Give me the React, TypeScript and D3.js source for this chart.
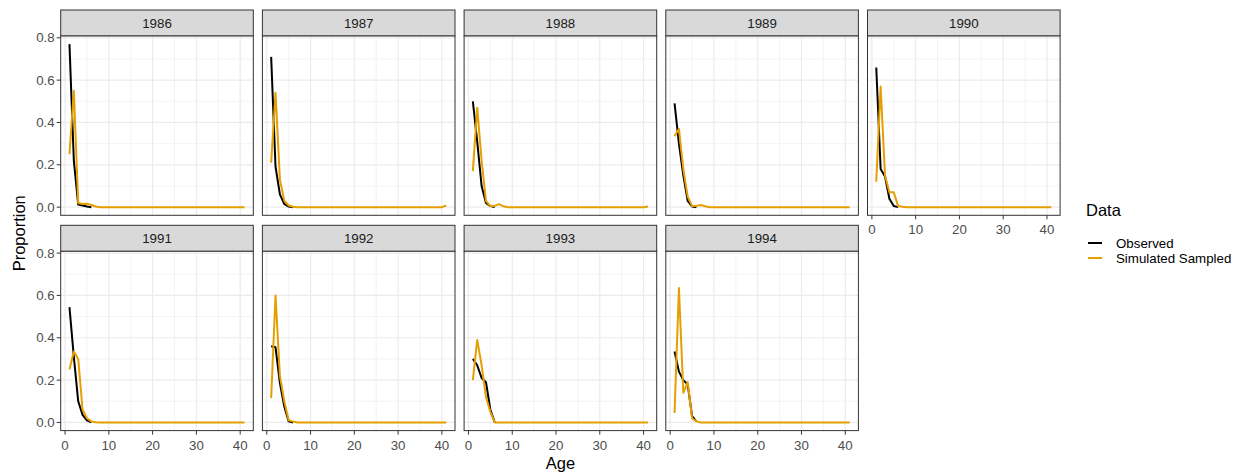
import React from "react";
import * as d3 from "d3";

const years = ["1986", "1987", "1988", "1989", "1990", "1991", "1992", "1993", "1994"];
const obsAges = [1, 2, 3, 4, 5, 6];
const simAges = d3.range(1, 42);

const obs1986 = [0.77, 0.22, 0.012, 0.008, 0.003, 0.0];
const obs1987 = [0.71, 0.19, 0.06, 0.015, 0.003, 0.0];
const obs1988 = [0.5, 0.31, 0.1, 0.02, 0.005, 0.0];
const obs1989 = [0.49, 0.3, 0.15, 0.03, 0.003, 0.0];
const obs1990 = [0.66, 0.18, 0.145, 0.04, 0.005, 0.0];
const obs1991 = [0.545, 0.31, 0.1, 0.036, 0.01, 0.0];
const obs1992 = [0.36, 0.355, 0.186, 0.075, 0.005, 0.0];
const obs1993 = [0.3, 0.27, 0.21, 0.19, 0.06, 0.0];
const obs1994 = [0.335, 0.24, 0.2, 0.18, 0.03, 0.005];

const sim1986 = [0.25, 0.55, 0.02, 0.015, 0.016, 0.01, 0.003, 0, 0, 0, 0, 0, 0, 0, 0, 0, 0, 0, 0, 0, 0, 0, 0, 0, 0, 0, 0, 0, 0, 0, 0, 0, 0, 0, 0, 0, 0, 0, 0, 0, 0];
const sim1987 = [0.21, 0.54, 0.13, 0.03, 0.008, 0.002, 0, 0, 0, 0, 0, 0, 0, 0, 0, 0, 0, 0, 0, 0, 0, 0, 0, 0, 0, 0, 0, 0, 0, 0, 0, 0, 0, 0, 0, 0, 0, 0, 0, 0, 0.008];
const sim1988 = [0.17, 0.47, 0.22, 0.03, 0.005, 0.006, 0.014, 0.004, 0, 0, 0, 0, 0, 0, 0, 0, 0, 0, 0, 0, 0, 0, 0, 0, 0, 0, 0, 0, 0, 0, 0, 0, 0, 0, 0, 0, 0, 0, 0, 0, 0.003];
const sim1989 = [0.335, 0.37, 0.18, 0.05, 0.005, 0.006, 0.01, 0.004, 0, 0, 0, 0, 0, 0, 0, 0, 0, 0, 0, 0, 0, 0, 0, 0, 0, 0, 0, 0, 0, 0, 0, 0, 0, 0, 0, 0, 0, 0, 0, 0, 0];
const sim1990 = [0.12, 0.57, 0.15, 0.07, 0.07, 0.005, 0.002, 0, 0, 0, 0, 0, 0, 0, 0, 0, 0, 0, 0, 0, 0, 0, 0, 0, 0, 0, 0, 0, 0, 0, 0, 0, 0, 0, 0, 0, 0, 0, 0, 0, 0];
const sim1991 = [0.25, 0.335, 0.3, 0.06, 0.02, 0.005, 0.001, 0, 0, 0, 0, 0, 0, 0, 0, 0, 0, 0, 0, 0, 0, 0, 0, 0, 0, 0, 0, 0, 0, 0, 0, 0, 0, 0, 0, 0, 0, 0, 0, 0, 0];
const sim1992 = [0.115, 0.6, 0.22, 0.1, 0.01, 0.004, 0, 0, 0, 0, 0, 0, 0, 0, 0, 0, 0, 0, 0, 0, 0, 0, 0, 0, 0, 0, 0, 0, 0, 0, 0, 0, 0, 0, 0, 0, 0, 0, 0, 0, 0];
const sim1993 = [0.2, 0.39, 0.27, 0.12, 0.05, 0.0, 0, 0, 0, 0, 0, 0, 0, 0, 0, 0, 0, 0, 0, 0, 0, 0, 0, 0, 0, 0, 0, 0, 0, 0, 0, 0, 0, 0, 0, 0, 0, 0, 0, 0, 0];
const sim1994 = [0.045, 0.635, 0.14, 0.19, 0.02, 0.005, 0, 0, 0, 0, 0, 0, 0, 0, 0, 0, 0, 0, 0, 0, 0, 0, 0, 0, 0, 0, 0, 0, 0, 0, 0, 0, 0, 0, 0, 0, 0, 0, 0, 0, 0];

const observed = [obs1986, obs1987, obs1988, obs1989, obs1990, obs1991, obs1992, obs1993, obs1994];
const simulated = [sim1986, sim1987, sim1988, sim1989, sim1990, sim1991, sim1992, sim1993, sim1994];

const xTicks = [0, 10, 20, 30, 40];
const xMinor = [5, 15, 25, 35];
const yTicks = [0, 0.2, 0.4, 0.6, 0.8];
const yMinor = [0.1, 0.3, 0.5, 0.7];
const legendTitle = "Data";
const legendLabels = ["Observed", "Simulated Sampled"];

const OBS_COLOR = "#000000";
const SIM_COLOR = "#E69F00";
const FONT = "'Liberation Sans', Arial, sans-serif";

const W = 1247;
const H = 475;
const panelW = 192.6;
const colStep = 201.7;
const left0 = 60.7;
const stripTop0 = 10;
const stripH = 26;
const panelH = 179.3;
const rowStep = 215.3;
const SMALL = 13.3;
const BIG = 16.5;

const allMax = d3.max([...observed.flat(), ...simulated.flat()]) as number;

export default function App() {
  const x = d3.scaleLinear().domain([-1, 43]).range([0, panelW]);
  const y = d3
    .scaleLinear()
    .domain([-0.05 * allMax, allMax * 1.05])
    .range([panelH, 0]);
  const line = d3
    .line<[number, number]>()
    .x((d) => x(d[0]))
    .y((d) => y(d[1]));

  const panels = years.map((yr, i) => {
    const col = i % 5;
    const row = Math.floor(i / 5);
    const px = left0 + col * colStep;
    const sy = stripTop0 + row * rowStep;
    const py = sy + stripH;
    const showX = row === 1 || col === 4;
    const showY = col === 0;
    const obsPts = obsAges.map((a, k) => [a, observed[i][k]] as [number, number]);
    const simPts = simAges.map((a, k) => [a, simulated[i][k]] as [number, number]);
    return (
      <g key={yr}>
        <rect x={px} y={sy} width={panelW} height={stripH} fill="#D9D9D9" stroke="#333333" strokeWidth={1} />
        <text x={px + panelW / 2} y={sy + stripH / 2} textAnchor="middle" dominantBaseline="central" fontSize={SMALL} fill="#1A1A1A" fontFamily={FONT}>
          {yr}
        </text>
        <g transform={`translate(${px},${py})`}>
          <rect x={0} y={0} width={panelW} height={panelH} fill="#FFFFFF" />
          {xMinor.map((t) => (
            <line key={"xm" + t} x1={x(t)} x2={x(t)} y1={0} y2={panelH} stroke="#EBEBEB" strokeWidth={0.6} />
          ))}
          {yMinor.map((t) => (
            <line key={"ym" + t} x1={0} x2={panelW} y1={y(t)} y2={y(t)} stroke="#EBEBEB" strokeWidth={0.6} />
          ))}
          {xTicks.map((t) => (
            <line key={"xM" + t} x1={x(t)} x2={x(t)} y1={0} y2={panelH} stroke="#EBEBEB" strokeWidth={1.2} />
          ))}
          {yTicks.map((t) => (
            <line key={"yM" + t} x1={0} x2={panelW} y1={y(t)} y2={y(t)} stroke="#EBEBEB" strokeWidth={1.2} />
          ))}
          <path d={line(obsPts) || ""} fill="none" stroke={OBS_COLOR} strokeWidth={2} strokeLinejoin="round" />
          <path d={line(simPts) || ""} fill="none" stroke={SIM_COLOR} strokeWidth={2} strokeLinejoin="round" />
          <rect x={0} y={0} width={panelW} height={panelH} fill="none" stroke="#333333" strokeWidth={1} />
          {showX &&
            xTicks.map((t) => (
              <g key={"xt" + t}>
                <line x1={x(t)} x2={x(t)} y1={panelH} y2={panelH + 4} stroke="#333333" strokeWidth={1} />
                <text x={x(t)} y={panelH + 14.5} textAnchor="middle" dominantBaseline="central" fontSize={SMALL} fill="#4D4D4D" fontFamily={FONT}>
                  {t}
                </text>
              </g>
            ))}
          {showY &&
            yTicks.map((t) => (
              <g key={"yt" + t}>
                <line x1={-4} x2={0} y1={y(t)} y2={y(t)} stroke="#333333" strokeWidth={1} />
                <text x={-6} y={y(t)} textAnchor="end" dominantBaseline="central" fontSize={SMALL} fill="#4D4D4D" fontFamily={FONT}>
                  {t.toFixed(1)}
                </text>
              </g>
            ))}
        </g>
      </g>
    );
  });

  const plotRight = left0 + 4 * colStep + panelW;
  const plotBottom = stripTop0 + rowStep + stripH + panelH;
  const firstPanelTop = stripTop0 + stripH;

  return (
    <svg width={W} height={H} style={{ position: "absolute", left: 0, top: 0, background: "#FFFFFF" }} fontFamily={FONT}>
      <rect x={0} y={0} width={W} height={H} fill="#FFFFFF" />
      {panels}
      <text
        transform={`translate(19,${(firstPanelTop + plotBottom) / 2}) rotate(-90)`}
        textAnchor="middle"
        dominantBaseline="central"
        fontSize={BIG}
        fill="#000000"
      >
        Proportion
      </text>
      <text x={(left0 + plotRight) / 2} y={463} textAnchor="middle" dominantBaseline="central" fontSize={BIG} fill="#000000">
        Age
      </text>
      <text x={1086} y={210} dominantBaseline="central" fontSize={BIG} fill="#000000">
        {legendTitle}
      </text>
      {legendLabels.map((lab, k) => (
        <g key={lab}>
          <line x1={1088} x2={1102} y1={243 + k * 15} y2={243 + k * 15} stroke={k === 0 ? OBS_COLOR : SIM_COLOR} strokeWidth={2} />
          <text x={1116} y={243 + k * 15} dominantBaseline="central" fontSize={SMALL} fill="#000000">
            {lab}
          </text>
        </g>
      ))}
    </svg>
  );
}
